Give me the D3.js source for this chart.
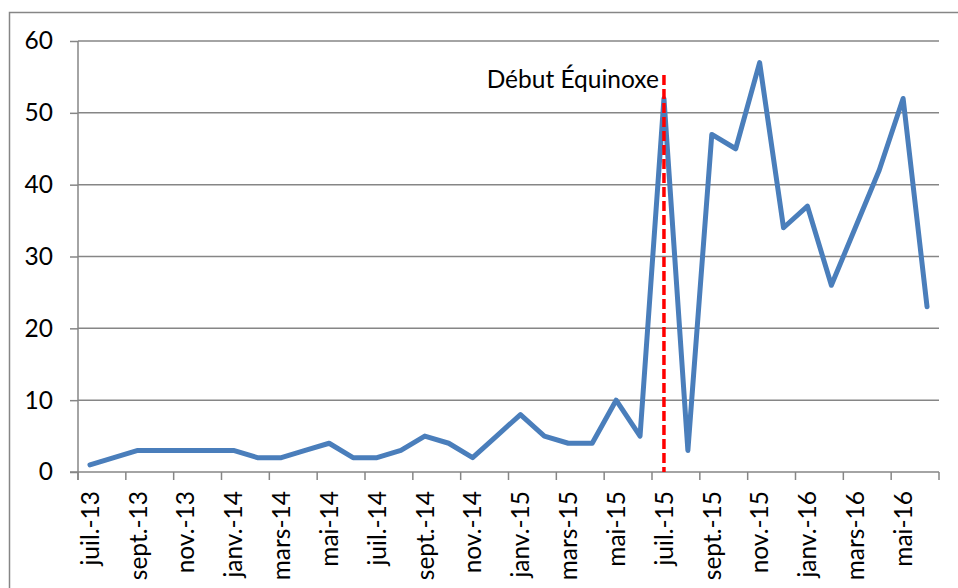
<!DOCTYPE html>
<html>
<head>
<meta charset="utf-8">
<script src="https://cdn.jsdelivr.net/npm/d3@7"></script>
<style>
  html, body { margin: 0; padding: 0; background: #fff; }
  svg { display: block; }
  text { font-family: Lato, "Liberation Sans", sans-serif; fill: #000; }
</style>
</head>
<body>
<svg id="chart" width="958" height="588"></svg>
<script>
const months = [
  "juil.-13","août-13","sept.-13","oct.-13","nov.-13","déc.-13",
  "janv.-14","févr.-14","mars-14","avr.-14","mai-14","juin-14",
  "juil.-14","août-14","sept.-14","oct.-14","nov.-14","déc.-14",
  "janv.-15","févr.-15","mars-15","avr.-15","mai-15","juin-15",
  "juil.-15","août-15","sept.-15","oct.-15","nov.-15","déc.-15",
  "janv.-16","févr.-16","mars-16","avr.-16","mai-16","juin-16"
];
const values = [
  1, 2, 3, 3, 3, 3,
  3, 2, 2, 3, 4, 2,
  2, 3, 5, 4, 2, 5,
  8, 5, 4, 4, 10, 5,
  52, 3, 47, 45, 57, 34,
  37, 26, 34, 42, 52, 23
];
const yTicks = [0, 10, 20, 30, 40, 50, 60];
const markerMonth = "juil.-15";
const markerLabel = "Début Équinoxe";

const FS = 24.5;
const svg = d3.select("#chart");
const L = 78, R = 939, T = 41, B = 472;

const x = d3.scaleBand().domain(months).range([L, R]).padding(0);
const y = d3.scaleLinear().domain([0, 60]).range([B, T]);

// outer border
svg.append("rect")
  .attr("x", 9.5).attr("y", 12.5).attr("width", 970).attr("height", 600)
  .attr("fill", "none").attr("stroke", "#868686").attr("stroke-width", 1.5);

// y ticks + labels
const yAxis = d3.axisLeft(y).tickValues(yTicks).tickSize(8).tickPadding(17);
const gy = svg.append("g").attr("transform", `translate(${L},0)`).call(yAxis);
gy.select(".domain").remove();
gy.selectAll(".tick line").attr("stroke", "#868686").attr("stroke-width", 1.5);
gy.selectAll(".tick text").attr("font-size", FS).attr("font-family", "Lato, 'Liberation Sans', sans-serif").attr("fill", "#000");

// gridlines
svg.append("g").selectAll("line")
  .data(yTicks.filter(d => d > 0))
  .join("line")
  .attr("x1", L).attr("x2", R)
  .attr("y1", d => y(d)).attr("y2", d => y(d))
  .attr("stroke", "#868686").attr("stroke-width", 1.5);

// y axis line
svg.append("line")
  .attr("x1", L).attr("x2", L).attr("y1", T).attr("y2", B + 8)
  .attr("stroke", "#868686").attr("stroke-width", 1.5);

// x axis line
svg.append("line")
  .attr("x1", L - 8).attr("x2", R).attr("y1", B).attr("y2", B)
  .attr("stroke", "#868686").attr("stroke-width", 1.5);

// x ticks at category boundaries, every 2 categories
const boundaries = d3.range(0, months.length + 1, 2).map(i =>
  i < months.length ? x(months[i]) : x(months[months.length - 1]) + x.bandwidth());
svg.append("g").selectAll("line")
  .data(boundaries)
  .join("line")
  .attr("x1", d => d).attr("x2", d => d)
  .attr("y1", B).attr("y2", B + 8)
  .attr("stroke", "#868686").attr("stroke-width", 1.5);

// x labels
svg.append("g").selectAll("text")
  .data(months.filter((m, i) => i % 2 === 0))
  .join("text")
  .attr("transform", d => `translate(${x(d) + x.bandwidth() / 2},${B + 19}) rotate(-90)`)
  .attr("text-anchor", "end")
  .attr("dy", "0.36em")
  .attr("font-size", FS)
  .text(d => d);

// line
const line = d3.line()
  .x((d, i) => x(months[i]) + x.bandwidth() / 2)
  .y(d => y(d));
svg.append("path")
  .datum(values)
  .attr("d", line)
  .attr("fill", "none")
  .attr("stroke", "#4A7EBB")
  .attr("stroke-width", 5)
  .attr("stroke-linejoin", "round")
  .attr("stroke-linecap", "round");

// marker
const mx = x(markerMonth) + x.bandwidth() / 2;
svg.append("line")
  .attr("x1", mx).attr("x2", mx)
  .attr("y1", 75).attr("y2", B)
  .attr("stroke", "#FF0000").attr("stroke-width", 3.5)
  .attr("stroke-dasharray", "10,4");
svg.append("text")
  .attr("x", mx - 5).attr("y", 88)
  .attr("text-anchor", "end")
  .attr("font-size", FS)
  .text(markerLabel);
</script>
</body>
</html>
